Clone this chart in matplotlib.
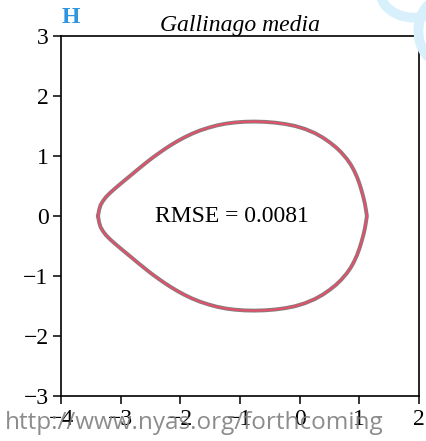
import numpy as np
import matplotlib.pyplot as plt
from matplotlib.patches import Arc

# upper half of the outline (x, y); the lower half is its mirror image
outline_x = [-3.380, -3.363, -3.338, -3.296, -3.246, -3.179, -3.112, -3.045, -2.961, -2.877,
             -2.793, -2.710, -2.626, -2.542, -2.458, -2.374, -2.274, -2.173, -2.056, -1.939,
             -1.805, -1.671, -1.536, -1.386, -1.235, -1.084, -0.916, -0.749, -0.581, -0.414,
             -0.246, -0.078, 0.089, 0.257, 0.391, 0.508, 0.609, 0.693, 0.793, 0.860,
             0.910, 0.961, 1.003, 1.036, 1.070, 1.095, 1.117, 1.128]
outline_y = [0.000, 0.100, 0.183, 0.254, 0.319, 0.386, 0.446, 0.503, 0.573, 0.642,
             0.711, 0.780, 0.848, 0.915, 0.979, 1.039, 1.109, 1.175, 1.245, 1.309,
             1.373, 1.427, 1.471, 1.512, 1.542, 1.561, 1.573, 1.576, 1.571, 1.558,
             1.536, 1.503, 1.453, 1.383, 1.308, 1.227, 1.147, 1.067, 0.952, 0.855,
             0.765, 0.655, 0.542, 0.435, 0.312, 0.205, 0.075, 0.000]
rmse = 0.0081
species = "Gallinago media"
panel = "H"
xticks = [-4, -3, -2, -1, 0, 1, 2]
yticks = [-3, -2, -1, 0, 1, 2, 3]

ux = np.array(outline_x)
uy = np.array(outline_y)
x = np.concatenate([ux, ux[::-1][1:]])
y = np.concatenate([uy, -uy[::-1][1:]])

plt.rcParams['font.family'] = ['Liberation Serif', 'DejaVu Serif']

fig = plt.figure(figsize=(4.27, 4.41), dpi=100)
ax = fig.add_axes([0.143, 0.102, 0.838, 0.816])

ax.plot(x, y, color='#7f7f7f', linewidth=2.8, solid_joinstyle='round')
ax.plot(x, y, color='#e4506a', linewidth=1.5, solid_joinstyle='round')

ax.text(-1.14, 0, "RMSE = %.4f" % rmse, fontsize=17, ha='center', va='center')

ax.set_xlim(-4, 2)
ax.set_ylim(-3, 3)
ax.set_xticks(xticks)
ax.set_yticks(yticks)
ax.tick_params(direction='out', length=6, width=1.1, labelsize=17, pad=3)
for s in ax.spines.values():
    s.set_linewidth(1.2)

ax.set_title(species, fontsize=17, style='italic', pad=3)
fig.text(0.165, 0.961, panel, fontsize=17, fontweight='bold', color='#2e96e0',
         ha='center', va='center')

# site watermark
fig.text(0.012, 0.028, "http://www.nyas.org/forthcoming", family='Open Sans',
         fontsize=17.5, color='#808080', alpha=0.9, ha='left', va='baseline')
for cx, cy, w, h, t1, t2 in [(0.97, 1.02, 0.16, 0.12, 190, 320),
                              (1.03, 0.93, 0.10, 0.14, 100, 250)]:
    fig.add_artist(Arc((cx, cy), w, h, theta1=t1, theta2=t2,
                       transform=fig.transFigure, color='#d8f0fc', linewidth=7))

fig.savefig('out.png', dpi=100)
